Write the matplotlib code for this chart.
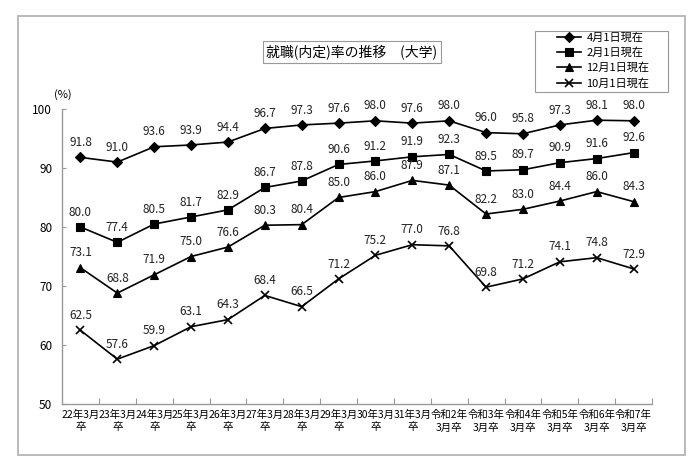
import matplotlib.pyplot as plt
from matplotlib.patches import Rectangle

plt.rcParams['font.family'] = ['Noto Sans CJK JP', 'DejaVu Sans']

# 卒業年度ラベル
categories = ['22年3月\n卒', '23年3月\n卒', '24年3月\n卒', '25年3月\n卒', '26年3月\n卒',
              '27年3月\n卒', '28年3月\n卒', '29年3月\n卒', '30年3月\n卒', '31年3月\n卒',
              '令和2年\n3月卒', '令和3年\n3月卒', '令和4年\n3月卒', '令和5年\n3月卒',
              '令和6年\n3月卒', '令和7年\n3月卒']

apr = [91.8, 91.0, 93.6, 93.9, 94.4, 96.7, 97.3, 97.6, 98.0, 97.6, 98.0, 96.0, 95.8, 97.3, 98.1, 98.0]
feb = [80.0, 77.4, 80.5, 81.7, 82.9, 86.7, 87.8, 90.6, 91.2, 91.9, 92.3, 89.5, 89.7, 90.9, 91.6, 92.6]
dec = [73.1, 68.8, 71.9, 75.0, 76.6, 80.3, 80.4, 85.0, 86.0, 87.9, 87.1, 82.2, 83.0, 84.4, 86.0, 84.3]
oct_ = [62.5, 57.6, 59.9, 63.1, 64.3, 68.4, 66.5, 71.2, 75.2, 77.0, 76.8, 69.8, 71.2, 74.1, 74.8, 72.9]

series = [
    ('4月1日現在', apr, 'D', 5),
    ('2月1日現在', feb, 's', 6),
    ('12月1日現在', dec, '^', 6),
    ('10月1日現在', oct_, 'x', 6),
]

fig = plt.figure(figsize=(7, 4.68), dpi=100)
# outer frame and legend frame
fig.patches.append(Rectangle((18 / 700, 13 / 468), 667 / 700, 439 / 468, transform=fig.transFigure,
                             fill=False, edgecolor='#b4b4b4', linewidth=1.3))
fig.patches.append(Rectangle((535 / 700, 1 - 92 / 468), 133 / 700, 61 / 468, transform=fig.transFigure,
                             fill=False, edgecolor='#999999', linewidth=0.8))
ax = fig.add_axes([62 / 700, 64 / 468, 590 / 700, 295 / 468])

x = list(range(len(categories)))
for name, vals, mk, ms in series:
    ax.plot(x, vals, color='black', linewidth=1.2, marker=mk, markersize=ms,
            markeredgewidth=1.2 if mk == 'x' else 0.8, label=name)
    for xi, v in zip(x, vals):
        ax.annotate(f'{v:.1f}', (xi, v), xytext=(0, 6), textcoords='offset points',
                    ha='center', va='bottom', fontsize=8.5, color='#222222')

ax.set_xlim(-0.5, len(categories) - 0.5)
ax.set_ylim(50, 100)
ax.set_yticks([50, 60, 70, 80, 90, 100])
ax.set_xticks([i + 0.5 for i in range(len(categories))], minor=False)
ax.set_xticklabels([])
ax.set_xticks(x, minor=True)
ax.set_xticklabels(categories, minor=True, fontsize=7.5, linespacing=1.35)
ax.tick_params(axis='x', which='major', direction='in', length=4, color='#999999')
ax.tick_params(axis='x', which='minor', length=0, pad=4)
ax.tick_params(axis='y', direction='in', length=3, color='#999999', labelsize=8.5, pad=7)
for s in ['top', 'right']:
    ax.spines[s].set_visible(False)
for s in ['left', 'bottom']:
    ax.spines[s].set_color('#999999')
    ax.spines[s].set_linewidth(1.0)

fig.text(63 / 700, 1 - 95 / 468, '(%)', ha='center', va='center', fontsize=8)
fig.text(352 / 700, 1 - 52 / 468, '就職(内定)率の推移　(大学)', ha='center', va='center', fontsize=10,
         bbox=dict(boxstyle='square,pad=0.25', facecolor='white', edgecolor='#999999', linewidth=0.8))

leg = ax.legend(loc='upper center', bbox_to_anchor=(603 / 700, 1 - 28 / 468),
                bbox_transform=fig.transFigure, fontsize=8, frameon=False, handlelength=2.2,
                labelspacing=0.4, borderpad=0.4, handletextpad=0.5, borderaxespad=0)

fig.savefig('out.png', dpi=100)
